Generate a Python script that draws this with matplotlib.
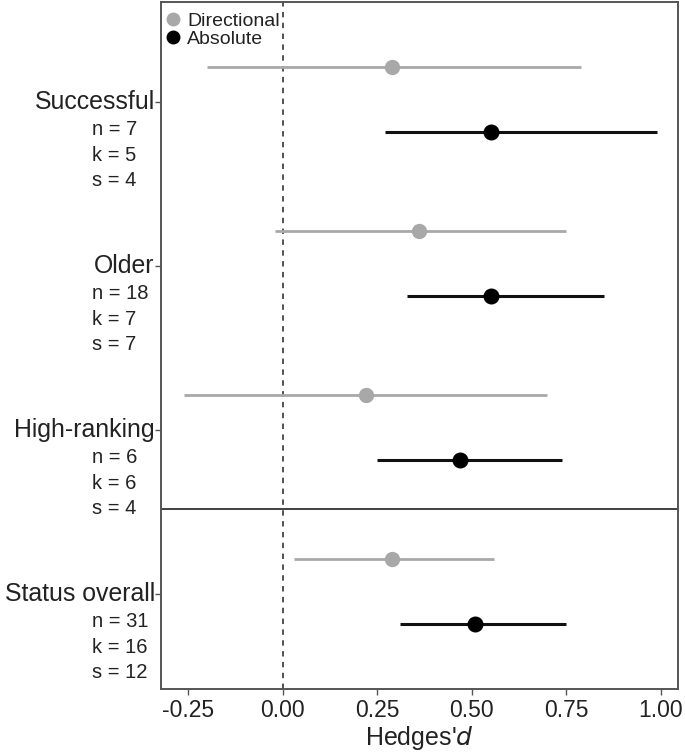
import matplotlib
matplotlib.use("Agg")
import matplotlib.pyplot as plt
from matplotlib.lines import Line2D

plt.rcParams['font.family'] = ['Liberation Sans', 'DejaVu Sans']

categories = ["Successful", "Older", "High-ranking", "Status overall"]
n_vals = [7, 18, 6, 31]
k_vals = [5, 7, 6, 16]
s_vals = [4, 7, 4, 12]

dir_est = [0.29, 0.36, 0.22, 0.29]
dir_lo = [-0.20, -0.02, -0.26, 0.03]
dir_hi = [0.79, 0.75, 0.70, 0.56]

abs_est = [0.55, 0.55, 0.47, 0.51]
abs_lo = [0.27, 0.33, 0.25, 0.31]
abs_hi = [0.99, 0.85, 0.74, 0.75]

xticks = [-0.25, 0.00, 0.25, 0.50, 0.75, 1.00]

fig = plt.figure(figsize=(6.85, 7.53), dpi=100)
ax = fig.add_axes([161/685, 1-689/753, (678-161)/685, (689-2)/753])

grey = "#a8a8a8"
dark = "#111111"
frame = "#555555"

for i in range(len(categories)):
    yd = i - 0.213
    ya = i + 0.183
    ax.plot([dir_lo[i], dir_hi[i]], [yd, yd], color=grey, lw=2.0, solid_capstyle='butt', zorder=2)
    ax.plot(dir_est[i], yd, 'o', color=grey, ms=10, zorder=3)
    ax.plot([abs_lo[i], abs_hi[i]], [ya, ya], color=dark, lw=2.2, solid_capstyle='butt', zorder=2)
    ax.plot(abs_est[i], ya, 'o', color='black', ms=10.5, zorder=3)

ax.axvline(0, color="#444444", lw=1.3, ls=(0, (3, 3)), zorder=1)
ax.axhline(2.48, color="#333333", lw=1.3, zorder=1)

ax.set_xlim(-0.322, 1.046)
ax.set_ylim(3.58, -0.61)

ax.set_xticks(xticks)
ax.set_xticklabels([f"{t:.2f}" for t in xticks], fontsize=16.5, color="#222222")
ax.set_yticks(range(len(categories)))
ax.set_yticklabels([])
ax.tick_params(axis='both', length=4, width=1, color=frame)

for sp in ax.spines.values():
    sp.set_color(frame)
    sp.set_linewidth(1.4)

trans = ax.get_yaxis_transform()
for i, c in enumerate(categories):
    ax.text(-0.012, i, c, transform=trans, ha='right', va='center', fontsize=17.9, color="#222222")
    for j, lab in enumerate([f"n = {n_vals[i]}", f"k = {k_vals[i]}", f"s = {s_vals[i]}"]):
        ax.text(-0.134, i + 0.17 + j * 0.155, lab, transform=trans, ha='left', va='center',
                fontsize=14.5, color="#222222")

ax.set_xlabel("Hedges'$\\it{d}$", fontsize=18, color="#222222", labelpad=1)

handles = [Line2D([], [], marker='o', ls='', color=grey, ms=9),
           Line2D([], [], marker='o', ls='', color='black', ms=9)]
leg = ax.legend(handles, ["Directional", "Absolute"], loc='upper left', frameon=False,
                fontsize=14, handletextpad=0.25, borderaxespad=0.0, labelspacing=0.0,
                bbox_to_anchor=(-0.008, 0.996), handlelength=0.9)
for t in leg.get_texts():
    t.set_color("#222222")

fig.savefig("out.png", dpi=100)
